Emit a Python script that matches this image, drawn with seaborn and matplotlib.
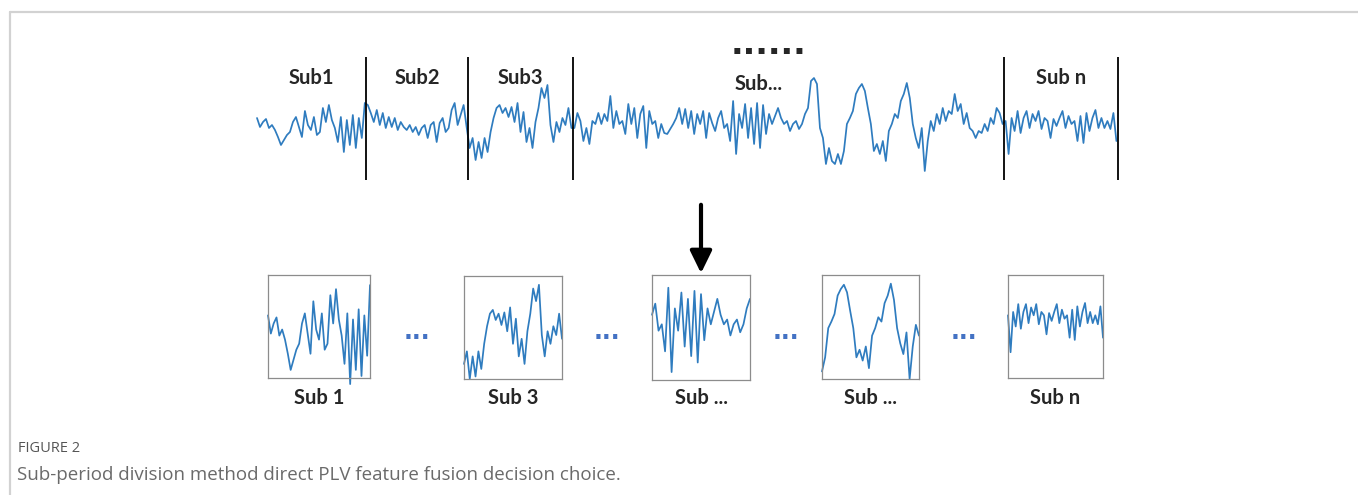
# =========================
# 1. Imports/Config:
# =========================

import numpy as np
import matplotlib
matplotlib.use("Agg")
import matplotlib.pyplot as plt
from matplotlib.lines import Line2D
import seaborn as sns

sns.set_theme(style="white")
plt.rcParams["font.family"] = ["Lato", "DejaVu Sans"]

# =========================
# 2. Data (amplitude in px about the baseline):
# =========================

seg_labels = ["Sub1", "Sub2", "Sub3", "Sub...", "Sub n"]

seg1 = [7, -2, 3, 6, -3, 0, -5, -12, -20, -15, -10, -7, 3, 8, -2, -12, 14, 0,
        -5, 8, -10, -7, 17, 3, 20, 5, -3, -17, 8, -27, 5, -20, 10, -23, 7, -13, 22]

seg2 = [20, 12, 3, 15, 0, 12, -3, 8, -2, 7, -5, 3, -2, -5, 0, -7, -2, -10,
        -3, 0, -13, 0, 3, -17, 2, 7, -7, -3, 15, 22, 0, 10, 20, -2]

seg3 = [-23, -13, -35, -17, -33, -13, -27, -7, 7, 17, 20, 12, 17, 8, 18, 3,
        22, -7, 13, -17, -3, -23, 3, 17, 37, 27, 40, 0, -17, 3, -7, 7, 0, 17, -3]

seg_mid = [-3, 12, 4, -16, -3, -19, 4, 1, 12, 1,
           11, 4, 29, -3, 14, 1, 4, -9, 21, 1,
           17, -13, 11, 19, -23, 14, 1, 4, -13, 1,
           -8, -9, -4, 1, 7, 17, 1, 16, -3, 14,
           -9, 11, 1, 14, -13, 12, 2, -6, 7, 14,
           -3, 1, -16, 24, -29, 11, -3, 21, -13, 17,
           -19, 22, -23, 20, -9, 11, 1, 9, 17, 7,
           1, 4, -6, 1, 4, -4, 1, 11, 17, 44,
           47, 41, -3, -13, -39, -23, -36, -39, -29, -39,
           -26, 1, 7, 14, 31, 37, 41, 34, 17, 1,
           -26, -19, -29, -16, -36, -6, 1, 11, 7, 24,
           31, 42, 27, 1, -13, -23, -3, -46, -16, 4,
           -6, 11, 1, 17, 4, 14, 11, 31, 14, 21,
           1, 12, -3, -6, -13, -6, -8, 1, -6, 7,
           1, 17, 12, 1]

seg_n = [4, -29, 7, -6, 14, -8, 7, 14, -3, 11,
         4, 14, -4, 7, 4, -13, 6, -1, 7, 14,
         -3, 9, 1, 4, -16, 9, -18, 12, -6, 7,
         15, -3, 7, -3, 4, -4, 12, -16]

segments = [seg1, seg2, seg3, seg_mid, seg_n]

# zoomed sub-periods shown in the boxes (taken from the segments above)
box_labels = ["Sub 1", "Sub 3", "Sub ...", "Sub ...", "Sub n"]
box_series = [seg1, seg3, seg_mid[48:79], seg_mid[89:121], seg_n]

caption_title = "FIGURE 2"
caption_text = "Sub-period division method direct PLV feature fusion decision choice."

# =========================
# 3. Setup:
# =========================

W, H = 1358, 495
fig = plt.figure(figsize=(W / 100, H / 100), dpi=100)
line_color = "#2f7cbf"


def px_rect(x0, y0, x1, y1):
    return [x0 / W, 1 - y1 / H, (x1 - x0) / W, (y1 - y0) / H]


# =========================
# 4. Long signal with sub-period cuts:
# =========================

signal = np.concatenate([np.array(s, dtype=float) for s in segments])
idx = np.arange(len(signal))
bounds = np.cumsum([len(s) for s in segments]) - 0.5
starts = np.concatenate([[-0.5], bounds[:-1]])

ax = fig.add_axes(px_rect(255, 50, 1120, 185))
sns.lineplot(x=idx, y=signal, ax=ax, color=line_color, linewidth=1.25, legend=False)
ax.vlines(bounds, -55, 68, color="black", linewidth=1.3)
ax.set_xlim(-0.67, len(signal) + 0.2)
ax.set_ylim(-60, 75)
ax.axis("off")

for i, (lab, a, b) in enumerate(zip(seg_labels, starts, bounds)):
    xm = (a + b) / 2
    ym = 47
    if lab == "Sub...":
        xm = a + 0.43 * (b - a)
        ym = 41
    ax.text(xm, ym, lab, ha="center", va="center", fontsize=14.5, fontweight="bold")

fig.text(768 / W, 1 - 44 / H, "......", ha="center", va="center",
         fontsize=24, fontweight="bold", family="DejaVu Sans")

# arrow down to the extracted sub-periods
fig.add_artist(matplotlib.patches.FancyArrowPatch(
    (701 / W, 1 - 202 / H), (701 / W, 1 - 276 / H), transform=fig.transFigure,
    arrowstyle="-|>,head_length=0.45,head_width=0.22", mutation_scale=30,
    color="black", linewidth=3))

# =========================
# 5. Sub-period boxes:
# =========================

box_px = [(268, 275, 370, 378), (464, 276, 562, 379), (652, 275, 750, 380),
          (822, 275, 919, 379), (1008, 275, 1103, 378)]
box_ylim = [(-24, 27), (-35, 47), (-34, 32), (-46, 50), (-52, 40)]

for lab, s, r, yl in zip(box_labels, box_series, box_px, box_ylim):
    bx = fig.add_axes(px_rect(*r))
    xs = np.arange(len(s))
    sns.lineplot(x=xs, y=np.array(s, dtype=float), ax=bx, color=line_color,
                 linewidth=1.25, legend=False)
    for ln in bx.lines:
        ln.set_clip_on(False)
    bx.set_xlim(0, len(s) - 1)
    bx.set_ylim(*yl)
    bx.set_xticks([])
    bx.set_yticks([])
    bx.set_xlabel("")
    bx.set_ylabel("")
    for sp in bx.spines.values():
        sp.set_color("#8c8c8c")
        sp.set_linewidth(0.9)
    fig.text((r[0] + r[2]) / 2 / W, 1 - 398 / H, lab, ha="center", va="center",
             fontsize=14.5, fontweight="bold")

# blue ellipses between the boxes
for (l, r) in zip(box_px[:-1], box_px[1:]):
    xm = (l[2] + r[0]) / 2
    fig.text(xm / W, 1 - 332 / H, "...", ha="center", va="center",
             fontsize=17, color="#4472c4", fontweight="bold", family="DejaVu Sans")

# =========================
# 6. Frame and caption:
# =========================

fig.add_artist(Line2D([10 / W, 1], [1 - 12 / H, 1 - 12 / H], color="#d2d2d2",
                      linewidth=1.6, transform=fig.transFigure))
fig.add_artist(Line2D([10 / W, 10 / W], [1 - 12 / H, 0], color="#d2d2d2",
                      linewidth=1.6, transform=fig.transFigure))

fig.text(18 / W, 1 - 449 / H, caption_title, ha="left", va="center",
         fontsize=10.5, color="#555555", family=["Open Sans", "DejaVu Sans"])
fig.text(17 / W, 1 - 475 / H, caption_text, ha="left", va="center",
         fontsize=13.5, color="#6a6a6a", family=["Open Sans", "DejaVu Sans"])

fig.savefig("out.png", dpi=100)
plt.close(fig)
